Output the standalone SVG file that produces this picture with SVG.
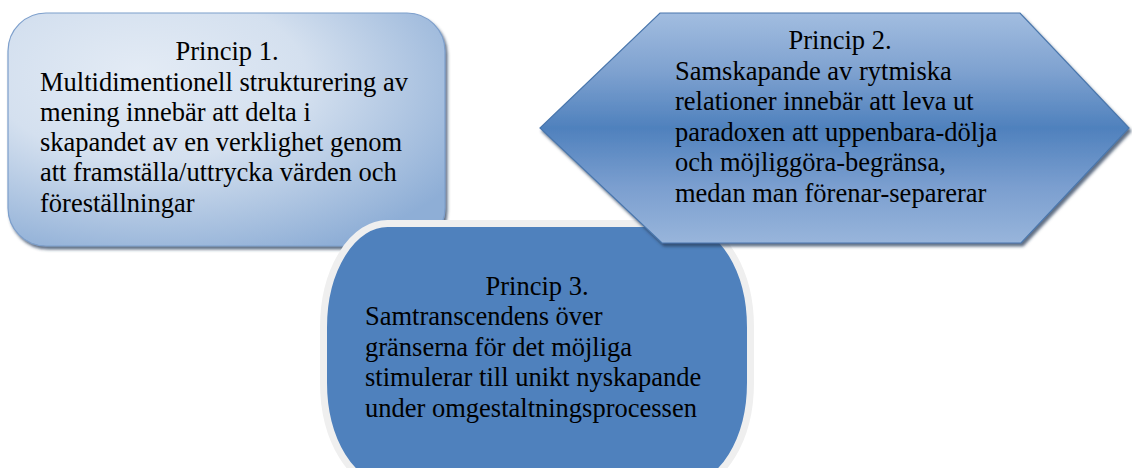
<svg xmlns="http://www.w3.org/2000/svg" width="1132" height="468" viewBox="0 0 1132 468">
<defs>
<radialGradient id="g1" cx="0.35" cy="0.3" r="0.8" fx="0.3" fy="0.25">
<stop offset="0" stop-color="#e3ebf5"/>
<stop offset="0.45" stop-color="#d4e0ef"/>
<stop offset="1" stop-color="#8eaed6"/>
</radialGradient>
<linearGradient id="g2" x1="0" y1="0" x2="0" y2="1">
<stop offset="0" stop-color="#a2bde0"/>
<stop offset="0.25" stop-color="#7fa2d0"/>
<stop offset="0.5" stop-color="#4f81bd"/>
<stop offset="0.75" stop-color="#7a9ecf"/>
<stop offset="1" stop-color="#98b5db"/>
</linearGradient>
<filter id="sh" x="-5%" y="-5%" width="112%" height="115%">
<feGaussianBlur in="SourceAlpha" stdDeviation="1.5"/>
<feOffset dx="2" dy="3" result="b"/>
<feFlood flood-color="#2b3f5c" flood-opacity="0.75"/>
<feComposite in2="b" operator="in"/>
<feMerge><feMergeNode/><feMergeNode in="SourceGraphic"/></feMerge>
</filter>
<style>
text{font-family:'Liberation Serif','Times New Roman',Times,serif;font-size:26.5px;fill:#000}
.c{text-anchor:middle}
</style>
</defs>
<g id="node1">
<rect x="8" y="13" width="437" height="233" rx="38" ry="38" fill="url(#g1)" stroke="#7d9fcc" stroke-width="1.2" filter="url(#sh)"/>
<text class="c" x="227" y="60">Princip 1.</text>
<text x="40" y="90.5">Multidimentionell strukturering av</text>
<text x="40" y="120.8">mening innebär att delta i</text>
<text x="40" y="151">skapandet av en verklighet genom</text>
<text x="40" y="181.3">att framställa/uttrycka värden och</text>
<text x="40" y="211.6">föreställningar</text>
</g>
<g id="node3">
<rect x="323.5" y="223.5" width="427" height="263" rx="64" ry="104" fill="#4f81bd" stroke="#efefef" stroke-width="7"/>
<text class="c" x="537" y="295">Princip 3.</text>
<text x="365" y="325">Samtranscendens över</text>
<text x="365" y="355.5">gränserna för det möjliga</text>
<text x="365" y="386">stimulerar till unikt nyskapande</text>
<text x="365" y="416.5">under omgestaltningsprocessen</text>
</g>
<g id="node2">
<polygon points="660,13 1020,13 1129,128 1021,243 662,243 540,128" fill="url(#g2)" stroke="#4a77ad" stroke-width="1.2" filter="url(#sh)"/>
<text class="c" x="840" y="49">Princip 2.</text>
<text x="675" y="79.5">Samskapande av rytmiska</text>
<text x="675" y="110">relationer innebär att leva ut</text>
<text x="675" y="140.5">paradoxen att uppenbara-dölja</text>
<text x="675" y="171">och möjliggöra-begränsa,</text>
<text x="675" y="201.5">medan man förenar-separerar</text>
</g>
<g id="connectors"/>
</svg>
